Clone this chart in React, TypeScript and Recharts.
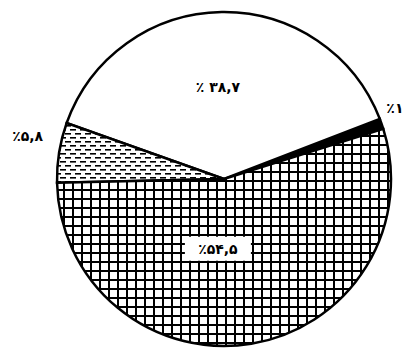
import { PieChart, Pie, Cell } from "recharts";

const categories = ["a", "b", "c", "d"];
const shares = [1, 38.7, 5.8, 54.5];
const shareLabels = ["٪۱", "٪ ۳۸,۷", "٪۵,۸", "٪۵۴,۵"];

const data = categories.map((name, i) => ({ name, value: shares[i] }));

const fills = ["#000", "#fff", "url(#dash)", "url(#grid)"];
// label placement per slice: radius from centre, angle shift in degrees
const labelSpots = [
  { r: 185, shift: 3.2 },
  { r: 92, shift: 3 },
  { r: 201, shift: -3.2 },
  { r: 70, shift: -14.4 },
];

const RADIAN = Math.PI / 180;

const renderLabel = (props: any) => {
  const { cx, cy, midAngle, index } = props;
  const spot = labelSpots[index];
  const a = (midAngle + spot.shift) * RADIAN;
  const x = cx + spot.r * Math.cos(a);
  const y = cy - spot.r * Math.sin(a);
  const text = shareLabels[index];
  return (
    <g>
      {index === 3 && <rect x={x - 33} y={y - 12} width={66} height={24} fill="#fff" />}
      <text
        x={x}
        y={y}
        textAnchor="middle"
        dominantBaseline="central"
        fill="#000"
        fontSize={14}
        fontWeight="bold"
        fontFamily="DejaVu Sans"
        direction="ltr"
      >
        {text}
      </text>
    </g>
  );
};

export default function App() {
  return (
    <div style={{ position: "absolute", left: 0, top: 0, background: "#fff" }}>
      <PieChart width={406} height={349}>
        <defs>
          <pattern id="grid" width="9" height="9" patternUnits="userSpaceOnUse">
            <rect width="9" height="9" fill="#fff" />
            <rect x="0" y="0" width="9" height="2" fill="#000" />
            <rect x="0" y="0" width="2" height="9" fill="#000" />
          </pattern>
          <pattern id="dash" width="10" height="8" patternUnits="userSpaceOnUse">
            <rect width="10" height="8" fill="#fff" />
            <rect x="0" y="1" width="6" height="1.6" fill="#000" />
            <rect x="5" y="5" width="6" height="1.6" fill="#000" />
            <rect x="-5" y="5" width="6" height="1.6" fill="#000" />
          </pattern>
        </defs>
        <Pie
          data={data}
          dataKey="value"
          cx={219}
          cy={174}
          outerRadius={167}
          startAngle={17.5}
          endAngle={377.5}
          stroke="#000"
          strokeWidth={2.5}
          labelLine={false}
          label={renderLabel}
          isAnimationActive={false}
        >
          {data.map((d, i) => (
            <Cell key={d.name} fill={fills[i]} />
          ))}
        </Pie>
      </PieChart>
    </div>
  );
}
